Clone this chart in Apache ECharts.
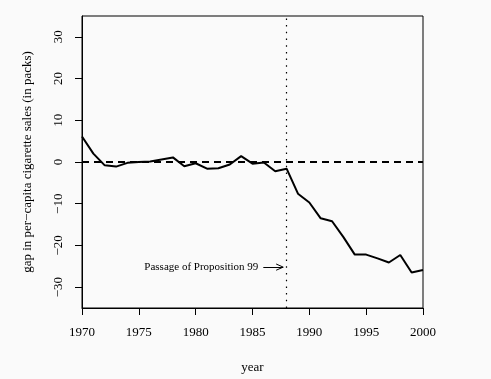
<!DOCTYPE html>
<html>
<head>
<meta charset="utf-8">
<script src="https://cdn.jsdelivr.net/npm/echarts@6/dist/echarts.min.js"></script>
<style>html,body{margin:0;padding:0;background:#fafafa}#c{width:491px;height:379px}</style>
</head>
<body>
<div id="c"></div>
<script>
const years = [1970,1971,1972,1973,1974,1975,1976,1977,1978,1979,1980,1981,1982,1983,1984,1985,1986,1987,1988,1989,1990,1991,1992,1993,1994,1995,1996,1997,1998,1999,2000];
const gap = [6.1,2.0,-0.8,-1.1,-0.2,0.0,0.1,0.6,1.1,-1.0,-0.3,-1.6,-1.5,-0.6,1.4,-0.4,-0.1,-2.2,-1.6,-7.6,-9.7,-13.5,-14.2,-18.0,-22.2,-22.2,-23.1,-24.1,-22.3,-26.5,-25.9];
const xTicks = [1970,1975,1980,1985,1990,1995,2000];
const yTicks = [-30,-20,-10,0,10,20,30];
const treatmentYear = 1988;
const annotationText = 'Passage of Proposition 99';
const arrowY = -25.2;
const arrowFrom = 1985.95, arrowTo = 1987.7;

const font = 'Liberation Serif';
const chart = echarts.init(document.getElementById('c'), null, {renderer:'canvas'});
const blk = '#000';
chart.setOption({
  backgroundColor: '#fafafa',
  animation: false,
  grid: {left: 82, right: 68, top: 16, bottom: 70, show: true, borderColor: blk, borderWidth: 1, backgroundColor: 'transparent'},
  xAxis: {
    type: 'value', min: 1970, max: 2000, interval: 5,
    name: 'year', nameLocation: 'middle', nameGap: 53,
    nameTextStyle: {fontFamily: font, fontSize: 13, color: blk},
    axisLine: {show: true, onZero: false, lineStyle: {color: blk, width: 1}},
    axisTick: {show: true, length: 7, lineStyle: {color: blk}, customValues: xTicks},
    axisLabel: {fontFamily: font, fontSize: 13, color: blk, margin: 18, customValues: xTicks, formatter: v => String(v)},
    splitLine: {show: false}
  },
  yAxis: {
    type: 'value', min: -35, max: 35,
    name: 'gap in per\u2212capita cigarette sales (in packs)', nameLocation: 'middle', nameGap: 48,
    nameTextStyle: {fontFamily: font, fontSize: 13, color: blk},
    axisLine: {show: true, onZero: false, lineStyle: {color: blk, width: 1}},
    axisTick: {show: true, length: 7, lineStyle: {color: blk}, customValues: yTicks},
    axisLabel: {fontFamily: font, fontSize: 13, color: blk, rotate: 90, margin: 17, customValues: yTicks, formatter: v => (v < 0 ? '\u2212' + Math.abs(v) : String(v))},
    splitLine: {show: false}
  },
  series: [{
    type: 'line',
    data: years.map((y, i) => [y, gap[i]]),
    showSymbol: false, symbol: 'none',
    lineStyle: {color: blk, width: 2},
    z: 5,
    markLine: {
      silent: true, symbol: 'none', animation: false,
      label: {show: false},
      data: [
        [{coord: [1970, 0], lineStyle: {type: [7, 5], width: 2, color: blk}}, {coord: [2000, 0]}],
        [{coord: [treatmentYear, -35], lineStyle: {type: [1.5, 5.2], width: 1.2, color: blk}}, {coord: [treatmentYear, 35]}],
        [{coord: [arrowFrom, arrowY], lineStyle: {type: 'solid', width: 1, color: blk},
          label: {show: true, position: 'start', formatter: annotationText, fontFamily: font, fontSize: 11, color: blk, distance: 5}},
         {coord: [arrowTo, arrowY]}],
        [{coord: [arrowTo - 0.62, arrowY + 0.75], lineStyle: {type: 'solid', width: 1, color: blk}}, {coord: [arrowTo, arrowY]}],
        [{coord: [arrowTo - 0.62, arrowY - 0.75], lineStyle: {type: 'solid', width: 1, color: blk}}, {coord: [arrowTo, arrowY]}]
      ]
    }
  }]
});
</script>
</body>
</html>
